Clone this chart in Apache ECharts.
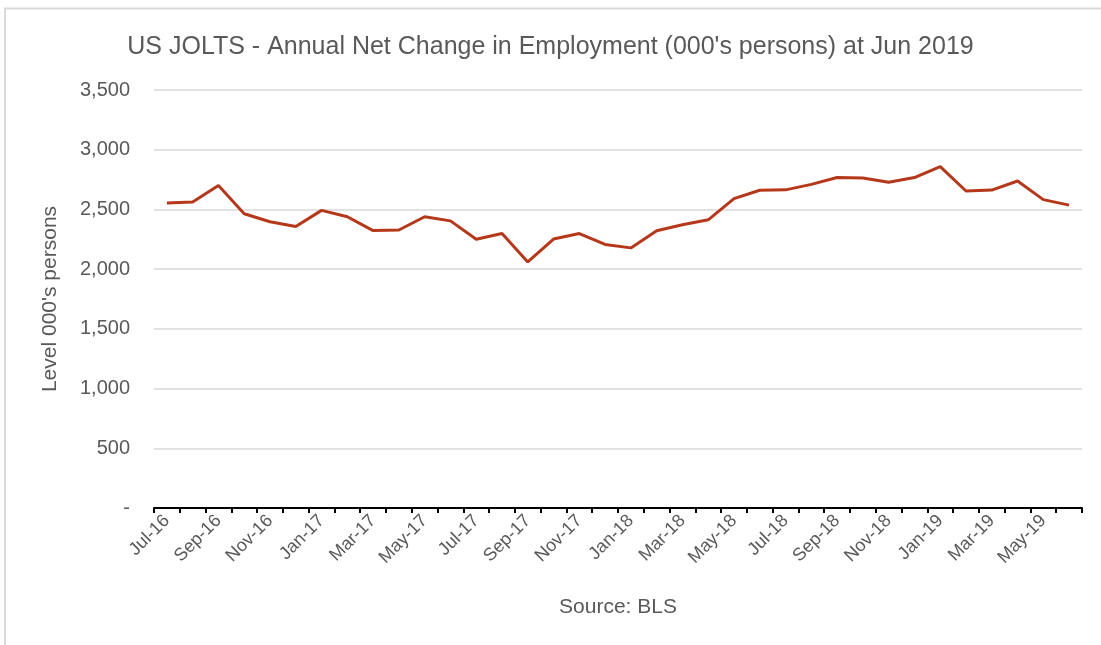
<!DOCTYPE html>
<html>
<head>
<meta charset="utf-8">
<script src="https://cdn.jsdelivr.net/npm/echarts@6/dist/echarts.min.js"></script>
<style>
html,body{margin:0;padding:0;background:#fff;}
#chart{width:1101px;height:645px;}
</style>
</head>
<body>
<div id="chart"></div>
<script>
const categories = ["Jul-16","Aug-16","Sep-16","Oct-16","Nov-16","Dec-16","Jan-17","Feb-17","Mar-17","Apr-17","May-17","Jun-17","Jul-17","Aug-17","Sep-17","Oct-17","Nov-17","Dec-17","Jan-18","Feb-18","Mar-18","Apr-18","May-18","Jun-18","Jul-18","Aug-18","Sep-18","Oct-18","Nov-18","Dec-18","Jan-19","Feb-19","Mar-19","Apr-19","May-19","Jun-19"];
const netChange = [2553,2562,2700,2464,2397,2357,2492,2439,2323,2328,2439,2404,2250,2298,2060,2252,2298,2207,2178,2322,2371,2413,2591,2661,2664,2710,2767,2764,2728,2767,2859,2654,2662,2738,2582,2536];
const titleText = "US JOLTS - Annual Net Change in Employment (000's persons) at Jun 2019";
const yAxisName = "Level 000's persons";
const sourceText = "Source: BLS";

const chart = echarts.init(document.getElementById('chart'));
const font = "Liberation Sans, Arial, sans-serif";
chart.setOption({
  animation: false,
  backgroundColor: '#fff',
  textStyle: {fontFamily: font},
  title: {
    text: titleText,
    left: 'center',
    top: 30,
    textStyle: {fontSize: 25, fontWeight: 'normal', color: '#595959', fontFamily: font}
  },
  graphic: [
    {type: 'line', shape: {x1: 4, y1: 8.5, x2: 1101, y2: 8.5}, style: {stroke: '#d9d9d9', lineWidth: 2}, silent: true},
    {type: 'line', shape: {x1: 5, y1: 8, x2: 5, y2: 645}, style: {stroke: '#d9d9d9', lineWidth: 2}, silent: true},
    {type: 'text', x: 618, y: 607, style: {text: sourceText, fontSize: 21, fill: '#595959', fontFamily: font, align: 'center', verticalAlign: 'middle'}}
  ],
  grid: {left: 154, right: 19, top: 90, bottom: 137},
  xAxis: {
    type: 'category',
    data: categories,
    boundaryGap: true,
    axisLine: {lineStyle: {color: '#000', width: 2}},
    axisTick: {show: true, interval: 0, length: 5, lineStyle: {color: '#000', width: 2}},
    axisLabel: {interval: 1, rotate: 45, fontSize: 18, color: '#595959', margin: 10, fontFamily: font}
  },
  yAxis: {
    type: 'value',
    min: 0, max: 3500, interval: 500,
    name: yAxisName,
    nameLocation: 'middle',
    nameGap: 93,
    nameTextStyle: {fontSize: 21, color: '#595959', fontFamily: font},
    axisLine: {show: false},
    axisTick: {show: false},
    axisLabel: {
      fontSize: 20, color: '#595959', margin: 24, fontFamily: font,
      formatter: v => v === 0 ? '-' : v.toLocaleString('en-US')
    },
    splitLine: {lineStyle: {color: '#d9d9d9', width: 1.5}}
  },
  series: [{
    type: 'line',
    data: netChange,
    symbol: 'none',
    lineStyle: {color: '#B5381A', width: 3},
    itemStyle: {color: '#B5381A'}
  }]
});
</script>
</body>
</html>
